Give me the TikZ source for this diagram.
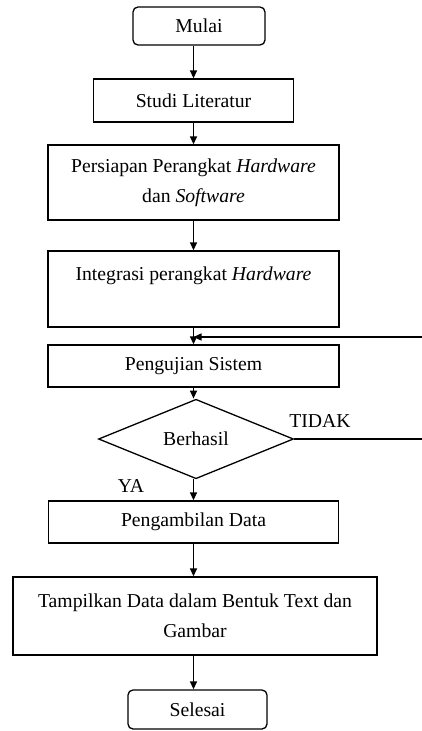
\documentclass[tikz,border=0pt]{standalone}
\usepackage{fontspec}
\setmainfont{Liberation Serif}
\usetikzlibrary{shapes.geometric,arrows.meta}
\begin{document}
\begin{tikzpicture}[x=1pt,y=-1pt,
	kotak/.style={draw,line width=1.3pt,align=center,inner sep=0pt},
	terminal/.style={kotak,rounded corners=5pt},
	keputusan/.style={draw,line width=1.3pt,diamond,inner sep=0pt,minimum width=195pt,minimum height=72pt},
	panah/.style={line width=1.3pt,-{Triangle[length=8pt,width=7pt]}},
	font=\fontsize{19.7}{30}\selectfont]

\useasboundingbox (0,0) rectangle (422,731);

\node[terminal,minimum width=132pt,minimum height=38pt] (mulai) at (199,26) {Mulai};
\node[kotak,minimum width=200pt,minimum height=43pt] (studi) at (193.5,100.5) {Studi Literatur};
\node[kotak,minimum width=291pt,minimum height=75pt] (persiapan) at (193.5,182.5) {Persiapan Perangkat \textit{Hardware}\\dan \textit{Software}};
\node[kotak,minimum width=291pt,minimum height=76pt] (integrasi) at (193.5,289) {Integrasi perangkat \textit{Hardware}\\\mbox{}};
\node[kotak,minimum width=291pt,minimum height=42pt] (pengujian) at (193.5,366) {Pengujian Sistem};
\node[keputusan] (berhasil) at (196,439) {Berhasil};
\node (tidak) at (320,421) {TIDAK};
\node (ya) at (131,486) {YA};
\node[kotak,minimum width=290pt,minimum height=42pt] (pengambilan) at (193.5,522) {Pengambilan Data};
\node[kotak,minimum width=364pt,minimum height=78pt] (tampilkan) at (195,616) {Tampilkan Data dalam Bentuk Text dan\\Gambar};
\node[terminal,minimum width=139pt,minimum height=39pt] (selesai) at (197.5,709.5) {Selesai};

\coordinate (gabung) at (193.5,337);
\coordinate (kembali) at (422,337);
\coordinate (keluar) at (422,439);

\draw[panah] (mulai.south -| studi.north) -- (studi.north);
\draw[panah] (studi.south) -- (persiapan.north);
\draw[panah] (persiapan.south) -- (integrasi.north);
\draw[panah] (integrasi.south) -- (pengujian.north);
\draw[panah] (kembali) -- (gabung);
\draw[panah] (pengujian.south) -- (pengujian.south |- berhasil.north);
\draw[line width=1.3pt] (berhasil.east) -- (keluar);
\draw[panah] (berhasil.south -| pengambilan.north) -- (pengambilan.north);
\draw[panah] (pengambilan.south) -- (pengambilan.south |- tampilkan.north);
\draw[panah] (pengambilan.south |- tampilkan.south) -- (pengambilan.south |- selesai.north);
\end{tikzpicture}
\end{document}
